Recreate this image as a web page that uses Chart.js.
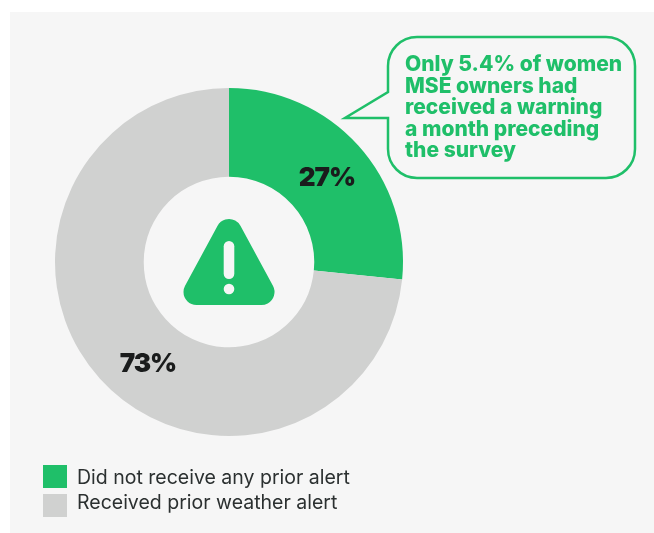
<!DOCTYPE html>
<html>
<head>
<meta charset="utf-8">
<script src="https://cdn.jsdelivr.net/npm/chart.js@4/dist/chart.umd.min.js"></script>
<style>
  html, body { margin: 0; padding: 0; background: #fff; }
  #wrap { position: relative; width: 654px; height: 533px; overflow: hidden; }
  #panel { position: absolute; left: 10px; top: 12px; width: 644px; height: 521px; background: #f6f6f6; }
  #alertChart { position: absolute; left: 0; top: 0; }
  #bubble { position: absolute; left: 0; top: 0; }
  #note {
    position: absolute; left: 405px; top: 53px; width: 225px;
    font: 800 21px/21.6px Inter, sans-serif; color: #1fbf69; white-space: nowrap;
  }
  #legendBoxes { position: absolute; left: 43px; top: 465px; }
  #legendBoxes div { width: 24px; height: 23px; margin-bottom: 6px; }
  #legendText {
    position: absolute; left: 77px; top: 464.5px;
    font: 400 19.5px/25px Inter, sans-serif; color: #2b3030; white-space: nowrap;
  }
</style>
</head>
<body>
<div id="wrap">
  <div id="panel"></div>
  <canvas id="alertChart" width="654" height="533"></canvas>
  <svg id="bubble" width="654" height="533">
    <path d="M417 37 H606 A29 29 0 0 1 635 66 V149 A29 29 0 0 1 606 178 H417 A29 29 0 0 1 388 149 V118 L345 118 L388 92 V66 A29 29 0 0 1 417 37 Z"
      fill="#f6f6f6" stroke="#1fbf69" stroke-width="2.5"/>
  </svg>
  <div id="note"></div>
  <div id="legendBoxes"></div>
  <div id="legendText"></div>
</div>
<script>
const categories = ['Did not receive any prior alert', 'Received prior weather alert'];
const shares = [26.6, 73.4];
const shareLabels = ['27%', '73%'];
const colors = ['#1fbf69', '#d0d1d0'];
const noteLines = ['Only 5.4% of women', 'MSE owners had', 'received a warning', 'a month preceding', 'the survey'];

document.getElementById('note').innerHTML = noteLines.join('<br>');
document.getElementById('legendBoxes').innerHTML = colors.map(c => `<div style="background:${c}"></div>`).join('');
document.getElementById('legendText').innerHTML = categories.join('<br>');

// Percent labels and the warning sign in the hole
const donutExtras = {
  id: 'donutExtras',
  afterDraw(chart) {
    const ctx = chart.ctx;
    const arcs = chart.getDatasetMeta(0).data;
    const cx = arcs[0].x, cy = arcs[0].y;

    // the labels are not at slice middles in the original
    const labelAngles = [49, 218.7];
    ctx.save();
    ctx.font = '900 26px Inter, sans-serif';
    ctx.letterSpacing = '-1px';
    ctx.fillStyle = '#1a1c1c';
    ctx.textAlign = 'center';
    ctx.textBaseline = 'middle';
    shareLabels.forEach((t, i) => {
      const a = labelAngles[i] * Math.PI / 180;
      const r = (arcs[i].innerRadius + arcs[i].outerRadius) / 2;
      ctx.fillText(t, cx + r * Math.sin(a), cy - r * Math.cos(a) + 1.5);
    });

    // rounded triangle: fat stroke round a smaller triangle
    ctx.fillStyle = colors[0];
    ctx.strokeStyle = colors[0];
    ctx.lineWidth = 26;
    ctx.lineJoin = 'round';
    ctx.beginPath();
    ctx.moveTo(cx, cy - 30);
    ctx.lineTo(cx + 32.5, cy + 30);
    ctx.lineTo(cx - 32.5, cy + 30);
    ctx.closePath();
    ctx.fill();
    ctx.stroke();

    ctx.fillStyle = '#f6f6f6';
    ctx.beginPath();
    ctx.roundRect(cx - 5.3, cy - 21, 10.6, 38, 5.3);
    ctx.fill();
    ctx.beginPath();
    ctx.arc(cx, cy + 27, 5.3, 0, Math.PI * 2);
    ctx.fill();
    ctx.restore();
  }
};

new Chart(document.getElementById('alertChart'), {
  type: 'doughnut',
  data: {
    labels: categories,
    datasets: [{
      data: shares,
      backgroundColor: colors,
      borderWidth: 0
    }]
  },
  options: {
    responsive: false,
    animation: false,
    cutout: '49%',
    layout: { padding: { left: 55, right: 251, top: 88, bottom: 97 } },
    plugins: {
      legend: { display: false },
      tooltip: { enabled: false }
    }
  },
  plugins: [donutExtras]
});
</script>
</body>
</html>
